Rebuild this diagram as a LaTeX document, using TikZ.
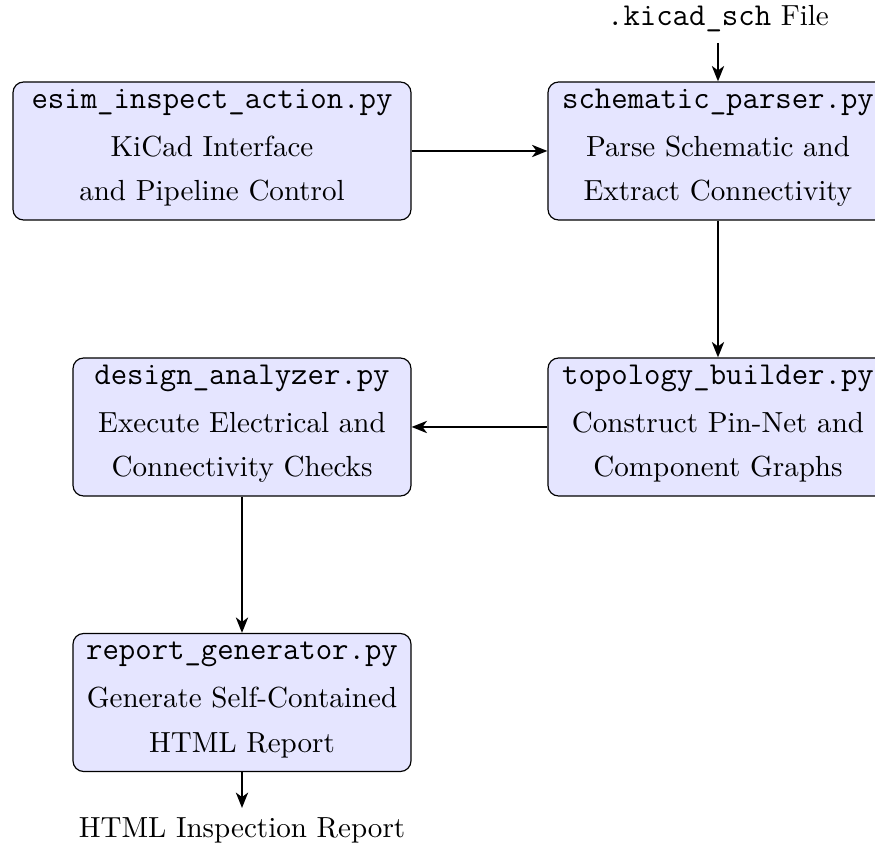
\documentclass[tikz,border=0pt]{standalone}
\usetikzlibrary{arrows.meta}
\def\pu{0.3767pt}
\tikzset{
  x=0.3767pt, y=-0.3767pt,
  modbox/.style={draw=black, line width=0.45pt, fill=blue!10, rounded corners=4pt,
    minimum height={138*\pu}, inner sep=0pt},
  fname/.style={anchor=base, inner sep=0pt, font=\fontsize{12}{14}\selectfont\ttfamily},
  desc/.style={anchor=base, inner sep=0pt, font=\fontsize{10.95}{13.6}\selectfont},
  flow/.style={line width=0.8pt, -{Stealth[length=5.8pt,width=4.6pt,inset=1.7pt]}},
}
\begin{document}
\begin{tikzpicture}
\useasboundingbox (0,0) rectangle (875,848);
% boxes
\node[modbox, minimum width={398*\pu}] (b1) at (212,151) {};
\node[modbox, minimum width={340*\pu}] (b2) at (718,151) {};
\node[modbox, minimum width={340*\pu}] (b3) at (718,427) {};
\node[modbox, minimum width={338*\pu}] (b4) at (242,427) {};
\node[modbox, minimum width={338*\pu}] (b5) at (242,702.5) {};
% texts
\node[fname] (t1a) at (212,109) {esim\_inspect\_action.py};
\node[desc]  (t1b) at (212,157) {KiCad Interface};
\node[desc]  (t1c) at (212,201) {and Pipeline Control};
\node[fname] (t2a) at (718,109) {schematic\_parser.py};
\node[desc]  (t2b) at (718,157) {Parse Schematic and};
\node[desc]  (t2c) at (718,201) {Extract Connectivity};
\node[fname] (t3a) at (718,385) {topology\_builder.py};
\node[desc]  (t3b) at (718,433) {Construct Pin-Net and};
\node[desc]  (t3c) at (718,477) {Component Graphs};
\node[fname] (t4a) at (242,385) {design\_analyzer.py};
\node[desc]  (t4b) at (242,433) {Execute Electrical and};
\node[desc]  (t4c) at (242,477) {Connectivity Checks};
\node[fname] (t5a) at (242,660) {report\_generator.py};
\node[desc]  (t5b) at (242,708) {Generate Self-Contained};
\node[desc]  (t5c) at (242,753) {HTML Report};
% input / output
\node[anchor=base, inner sep=0pt, font=\fontsize{10.95}{13.6}\selectfont] (in) at (718,26)
  {{\fontsize{12}{14}\selectfont\ttfamily .kicad\_sch} File};
\coordinate (inA) at (718,43);
\node[desc] (out) at (242,838) {HTML Inspection Report};
\coordinate (outA) at (242,808);
% connectors
\draw[flow] (inA) -- (b2.north);
\draw[flow] (b1.east) -- (b2.west);
\draw[flow] (b2.south) -- (b3.north);
\draw[flow] (b3.west) -- (b4.east);
\draw[flow] (b4.south) -- (b5.north);
\draw[flow] (b5.south) -- (outA);
\end{tikzpicture}
\end{document}
